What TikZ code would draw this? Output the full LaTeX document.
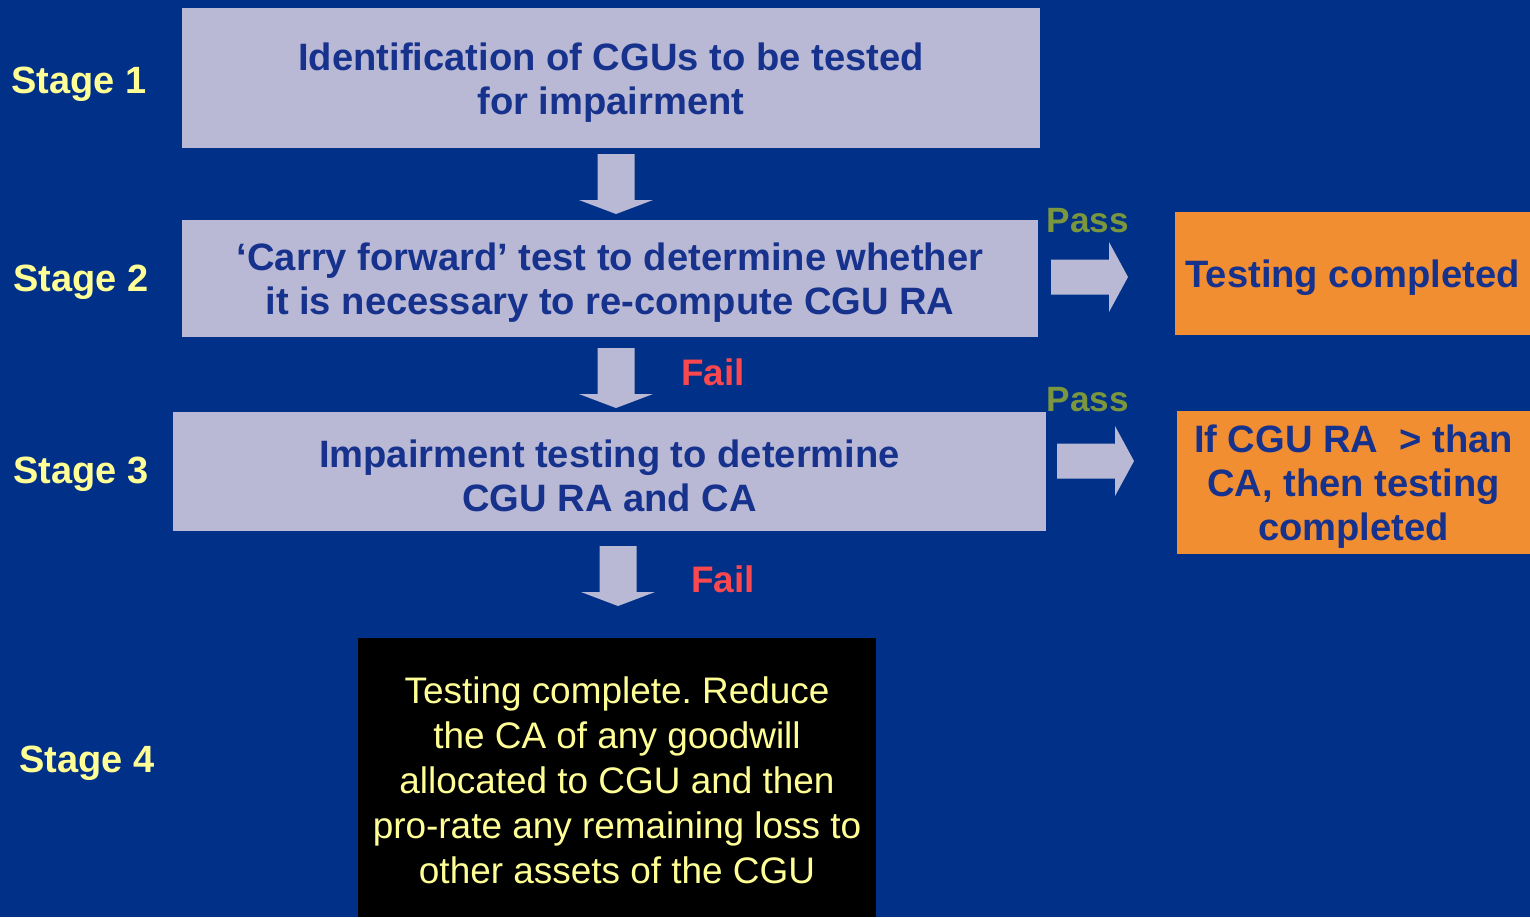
\documentclass[tikz,border=0pt]{standalone}
\usepackage{fontspec}
\setmainfont{Liberation Sans}
\usetikzlibrary{positioning}
\frenchspacing

\definecolor{bgblue}{RGB}{0,48,135}
\definecolor{boxgrey}{RGB}{185,185,214}
\definecolor{txtblue}{RGB}{22,50,140}
\definecolor{orng}{RGB}{242,142,50}
\definecolor{stageyel}{RGB}{255,255,150}
\definecolor{passgrn}{RGB}{122,150,62}
\definecolor{failred}{RGB}{250,72,78}

\newcommand{\tstrut}{\rule{0pt}{0.95em}}
\newcommand{\downarr}[2]{\fill[boxgrey] (#1-18.5,#2) -- (#1+18.5,#2) -- (#1+18.5,#2+46) -- (#1+37,#2+46) -- (#1,#2+60) -- (#1-37,#2+46) -- (#1-18.5,#2+46) -- cycle;}
\newcommand{\rightarr}[2]{\fill[boxgrey] (#1,#2-17.5) -- (#1+58,#2-17.5) -- (#1+58,#2-35) -- (#1+77,#2) -- (#1+58,#2+35) -- (#1+58,#2+17.5) -- (#1,#2+17.5) -- cycle;}

\tikzset{
  stagebox/.style={rectangle, fill=boxgrey, text=txtblue, font=\fontsize{10.85}{12.6}\selectfont\bfseries, align=center, inner sep=0pt},
  resbox/.style={rectangle, fill=orng, text=txtblue, font=\fontsize{10.85}{12.6}\selectfont\bfseries, align=center, inner sep=0pt},
  finalbox/.style={rectangle, fill=black, text=stageyel, font=\fontsize{10.5}{12.8}\selectfont, align=center, inner sep=0pt},
  stagelbl/.style={text=stageyel, font=\fontsize{10.8}{13}\selectfont\bfseries},
  passlbl/.style={text=passgrn, font=\fontsize{10}{12}\selectfont\bfseries},
  faillbl/.style={text=failred, font=\fontsize{10.5}{13}\selectfont\bfseries},
}

\begin{document}
\begin{tikzpicture}[x=0.01cm, y=-0.01cm]
  \fill[bgblue] (0,0) rectangle (1530,917);
  \useasboundingbox (0,0) rectangle (1530,917);

  % stage labels
  \node[stagelbl] (s1) at (79,84) {Stage 1};
  \node[stagelbl] (s2) at (81,282) {Stage 2};
  \node[stagelbl] (s3) at (81,474) {Stage 3};
  \node[stagelbl] (s4) at (87,763) {Stage 4};

  % main boxes
  \node[stagebox, minimum width=8.58cm, minimum height=1.40cm] (ident) at (611,78)
    {\tstrut Identification of CGUs to be tested\\for impairment};
  \node[stagebox, minimum width=8.56cm, minimum height=1.17cm] (carry) at (610,278.5)
    {\tstrut‘Carry forward’ test to determine whether\\it is necessary to re-compute CGU RA};
  \node[stagebox, minimum width=8.73cm, minimum height=1.19cm] (impair) at (609.5,471.5)
    {\tstrut Impairment testing to determine\\CGU RA and CA};
  \node[finalbox, minimum width=5.18cm, minimum height=2.79cm] (reduce) at (617,777.5)
    {\rule{0pt}{0.9em}Testing complete. Reduce\\the CA of any goodwill\\allocated to CGU and then\\pro-rate any remaining loss to\\other assets of the CGU};

  % outcome boxes
  \node[resbox, minimum width=3.55cm, minimum height=1.23cm] (done1) at (1352.5,273.5)
    {\tstrut Testing completed};
  \node[resbox, minimum width=3.53cm, minimum height=1.43cm] (done2) at (1353.5,482.5)
    {\tstrut If CGU RA \ > than\\CA, then testing\\completed};

  % block arrows
  \downarr{616}{154}
  \downarr{616}{348}
  \downarr{618}{546}
  \rightarr{1051}{277}
  \rightarr{1057}{461}

  \node[passlbl] (p1) at (1088,221) {Pass};
  \node[passlbl] (p2) at (1088,400) {Pass};
  \node[faillbl] (f1) at (713,372) {Fail};
  \node[faillbl] (f2) at (723,579) {Fail};
\end{tikzpicture}
\end{document}
